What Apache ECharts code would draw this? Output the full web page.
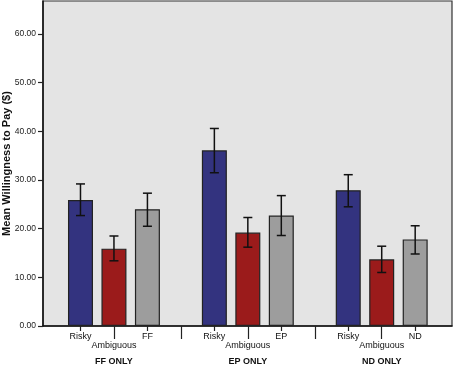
<!DOCTYPE html>
<html>
<head>
<meta charset="utf-8">
<script src="https://cdn.jsdelivr.net/npm/echarts@6/dist/echarts.min.js"></script>
<style>html,body{margin:0;padding:0;background:#fff;}#c{width:453px;height:366px;}</style>
</head>
<body>
<div id="c"></div>
<script>
const groups = ['FF ONLY', 'EP ONLY', 'ND ONLY'];
const barLabels = [['Risky', 'Ambiguous', 'FF'], ['Risky', 'Ambiguous', 'EP'], ['Risky', 'Ambiguous', 'ND']];
const riskyMean = [25.9, 36.1, 27.9];
const riskyLow = [22.7, 31.5, 24.5];
const riskyHigh = [29.2, 40.6, 31.1];
const ambigMean = [15.9, 19.2, 13.7];
const ambigLow = [13.4, 16.2, 11.0];
const ambigHigh = [18.5, 22.3, 16.4];
const attrMean = [24.0, 22.7, 17.8];
const attrLow = [20.5, 18.6, 14.8];
const attrHigh = [27.3, 26.8, 20.6];
const yTicks = [0, 10, 20, 30, 40, 50, 60];

const colors = ['#33337f', '#9b1b1b', '#9d9d9d'];
const means = [riskyMean, ambigMean, attrMean];
const lows = [riskyLow, ambigLow, attrLow];
const highs = [riskyHigh, ambigHigh, attrHigh];

const barData = [], errData = [];
const labelMap = {};
groups.forEach((g, gi) => {
  for (let k = 0; k < 3; k++) {
    const pos = gi * 4 + k + 1;
    labelMap[pos] = barLabels[gi][k];
    barData.push({ value: [pos, means[k][gi]], itemStyle: { color: colors[k] } });
    errData.push([pos, lows[k][gi], highs[k][gi]]);
  }
});
const groupPos = groups.map((g, gi) => gi * 4 + 2);
const groupMap = {};
groupPos.forEach((p, i) => groupMap[p] = groups[i]);

const font = 'Liberation Sans, Arial, sans-serif';
const xMin = -0.12, xMax = 12.1;

const chart = echarts.init(document.getElementById('c'), null, { renderer: 'canvas' });
chart.setOption({
  animation: false,
  grid: { left: 43, right: 1, top: 1, bottom: 40, outerBoundsMode: 'none', containLabel: false,
    show: true, backgroundColor: '#e4e4e4', borderColor: '#333', borderWidth: 1.2 },
  xAxis: [
    {
      type: 'value', min: xMin, max: xMax, position: 'bottom',
      axisLine: { show: true, onZero: false, lineStyle: { color: '#111', width: 1.5 } },
      splitLine: { show: false },
      axisTick: { show: true, customValues: [1, 3, 5, 7, 9, 11], length: 5, lineStyle: { color: '#222', width: 1.2 } },
      axisLabel: { show: true, customValues: [1, 3, 5, 7, 9, 11], margin: 6, fontSize: 9, color: '#111', fontFamily: font,
        formatter: v => labelMap[Math.round(v)] || '' }
    },
    {
      type: 'value', min: xMin, max: xMax, position: 'bottom',
      axisLine: { show: false, onZero: false },
      splitLine: { show: false },
      axisTick: { show: true, customValues: [2, 4, 6, 8, 10], length: 13, lineStyle: { color: '#222', width: 1.2 } },
      axisLabel: { show: true, customValues: [2, 6, 10], margin: 15, fontSize: 9, color: '#111', fontFamily: font,
        formatter: v => labelMap[Math.round(v)] || '' }
    },
    {
      type: 'value', min: xMin, max: xMax, position: 'bottom',
      axisLine: { show: false, onZero: false },
      splitLine: { show: false },
      axisTick: { show: false },
      axisLabel: { show: true, customValues: groupPos, margin: 31, fontSize: 9, fontWeight: 'bold', color: '#111', fontFamily: font,
        formatter: v => groupMap[Math.round(v)] || '' }
    }
  ],
  yAxis: {
    type: 'value', min: 0, max: 66.8, position: 'left',
    name: 'Mean Willingness to Pay ($)', nameLocation: 'middle', nameGap: 31, nameRotate: 90, nameMoveOverlap: false,
    nameTextStyle: { fontSize: 11, fontWeight: 'bold', color: '#111', fontFamily: font },
    axisLine: { show: true, onZero: false, lineStyle: { color: '#111', width: 1.5 } },
    splitLine: { show: false },
    axisTick: { show: true, customValues: yTicks, length: 5, lineStyle: { color: '#222', width: 1.2 } },
    axisLabel: { customValues: yTicks, margin: 7, fontSize: 8.5, color: '#222', fontFamily: font, formatter: v => v.toFixed(2) }
  },
  series: [
    {
      type: 'bar', xAxisIndex: 0, barWidth: 25, data: barData,
      itemStyle: { borderColor: '#222', borderWidth: 1.2 }
    },
    {
      type: 'custom', xAxisIndex: 0, data: errData, z: 10,
      renderItem: function (params, api) {
        const x = api.value(0);
        const lo = api.coord([x, api.value(1)]);
        const hi = api.coord([x, api.value(2)]);
        const hw = 4.5;
        const st = { stroke: '#111', lineWidth: 1.5 };
        return {
          type: 'group', children: [
            { type: 'line', shape: { x1: lo[0], y1: lo[1], x2: hi[0], y2: hi[1] }, style: st },
            { type: 'line', shape: { x1: lo[0] - hw, y1: lo[1], x2: lo[0] + hw, y2: lo[1] }, style: st },
            { type: 'line', shape: { x1: hi[0] - hw, y1: hi[1], x2: hi[0] + hw, y2: hi[1] }, style: st }
          ]
        };
      }
    }
  ]
});
</script>
</body>
</html>
